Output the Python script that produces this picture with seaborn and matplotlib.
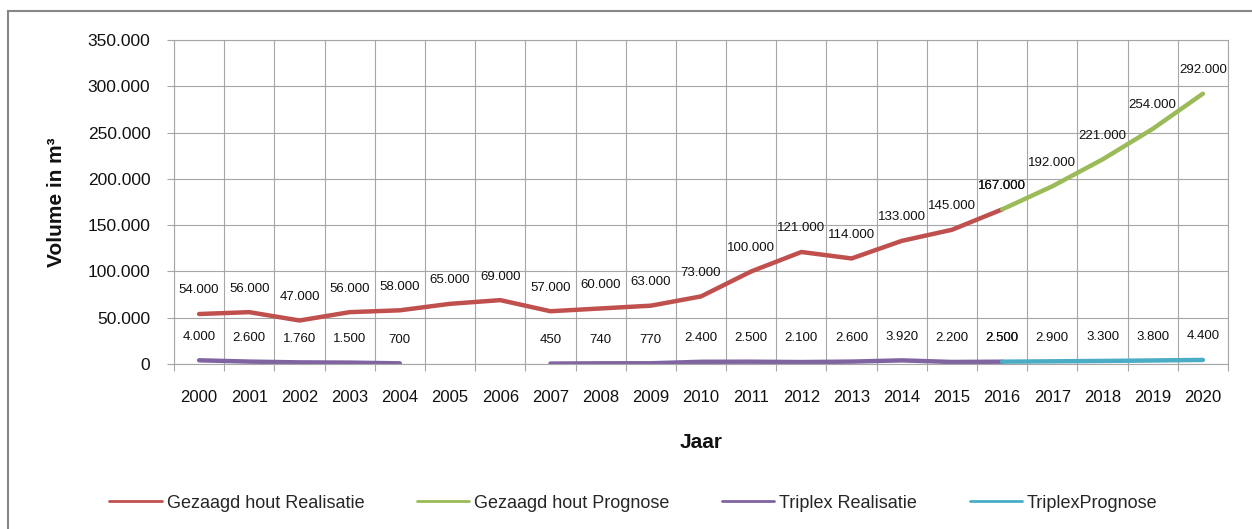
import numpy as np
import pandas as pd
import seaborn as sns
import matplotlib
matplotlib.use("Agg")
import matplotlib.pyplot as plt
from matplotlib.lines import Line2D
from matplotlib.patches import Rectangle
from matplotlib.ticker import FuncFormatter

years = list(range(2000, 2021))
gezaagd_real = [54000, 56000, 47000, 56000, 58000, 65000, 69000, 57000, 60000, 63000,
                73000, 100000, 121000, 114000, 133000, 145000, 167000] + [np.nan] * 4
gezaagd_prog = [np.nan] * 16 + [167000, 192000, 221000, 254000, 292000]
triplex_real = [4000, 2600, 1760, 1500, 700, np.nan, np.nan, 450, 740, 770,
                2400, 2500, 2100, 2600, 3920, 2200, 2500] + [np.nan] * 4
triplex_prog = [np.nan] * 16 + [2500, 2900, 3300, 3800, 4400]

series_names = ["Gezaagd hout Realisatie", "Gezaagd hout Prognose",
                "Triplex Realisatie", "TriplexPrognose"]
series_vals = [gezaagd_real, gezaagd_prog, triplex_real, triplex_prog]
colors = ["#C0504D", "#9BBB59", "#8064A2", "#4BACC6"]
yticks = [0, 50000, 100000, 150000, 200000, 250000, 300000, 350000]

sns.set_theme(style="white")
plt.rcParams["font.family"] = ["Liberation Sans", "DejaVu Sans"]

fig = plt.figure(figsize=(12.52, 5.29), dpi=100)
ax = fig.add_axes([174 / 1252, 1 - 364 / 529, (1228 - 174) / 1252, 324 / 529])

pos = np.arange(len(years))


def fmt(v):
    return f"{int(round(v)):,}".replace(",", ".")


for name, vals, col in zip(series_names, series_vals, colors):
    df = pd.DataFrame({"x": pos, "y": vals})
    seg = df["y"].isna().cumsum()
    df = df.assign(seg=seg).dropna()
    for _, part in df.groupby("seg"):
        if len(part) > 1:
            sns.lineplot(data=part, x="x", y="y", color=col, linewidth=3.2,
                         ax=ax, legend=False, solid_capstyle="round")
    for x, y in zip(df["x"], df["y"]):
        ax.annotate(fmt(y), (x, y), xytext=(0, 17), textcoords="offset points",
                    ha="center", va="center", fontsize=9.5, color="#111111",
                    annotation_clip=False)

ax.set_xlim(-0.5, len(years) - 0.5)
ax.set_ylim(0, 350000)
ax.set_yticks(yticks)
ax.yaxis.set_major_formatter(FuncFormatter(lambda v, p: fmt(v)))
ax.set_xticks(pos)
ax.set_xticklabels([str(y) for y in years])
ax.set_xticks(np.arange(-0.5, len(years)), minor=True)

gc = "#a6a6a6"
ax.grid(True, axis="y", which="major", color=gc, linewidth=0.8)
ax.grid(True, axis="x", which="minor", color=gc, linewidth=0.8)
ax.grid(False, axis="x", which="major")
ax.set_axisbelow(True)
ax.tick_params(axis="x", which="major", length=0, pad=19, labelsize=12, colors="#111111")
ax.tick_params(axis="x", which="minor", length=5, width=0.8, color=gc, direction="out", bottom=True)
ax.tick_params(axis="y", which="major", length=5, width=0.8, color=gc, direction="out",
               left=True, pad=12, labelsize=12.5, labelcolor="#111111")
for s in ax.spines.values():
    s.set_color(gc)
    s.set_linewidth(0.8)

ax.set_xlabel("Jaar", fontsize=15, fontweight="bold", color="#111111")
ax.xaxis.set_label_coords(0.5, -0.213)
ax.set_ylabel("Volume in m³", fontsize=15, fontweight="bold", color="#111111")
ax.yaxis.set_label_coords(-0.102, 0.5)

handles = [Line2D([0], [0], color=c, linewidth=2) for c in colors]
fig.legend(handles, series_names, loc="center", bbox_to_anchor=(0.506, 1 - 503 / 529),
           ncol=4, frameon=False, fontsize=13, handlelength=2.9, columnspacing=2.9,
           handletextpad=0.28)

fig.patches.append(Rectangle((8 / 1252, -0.2), 1.2, 1.2 - 11 / 529,
                             transform=fig.transFigure, fill=False,
                             edgecolor="#868686", linewidth=1.5, clip_on=False))

fig.savefig("out.png", dpi=100)
